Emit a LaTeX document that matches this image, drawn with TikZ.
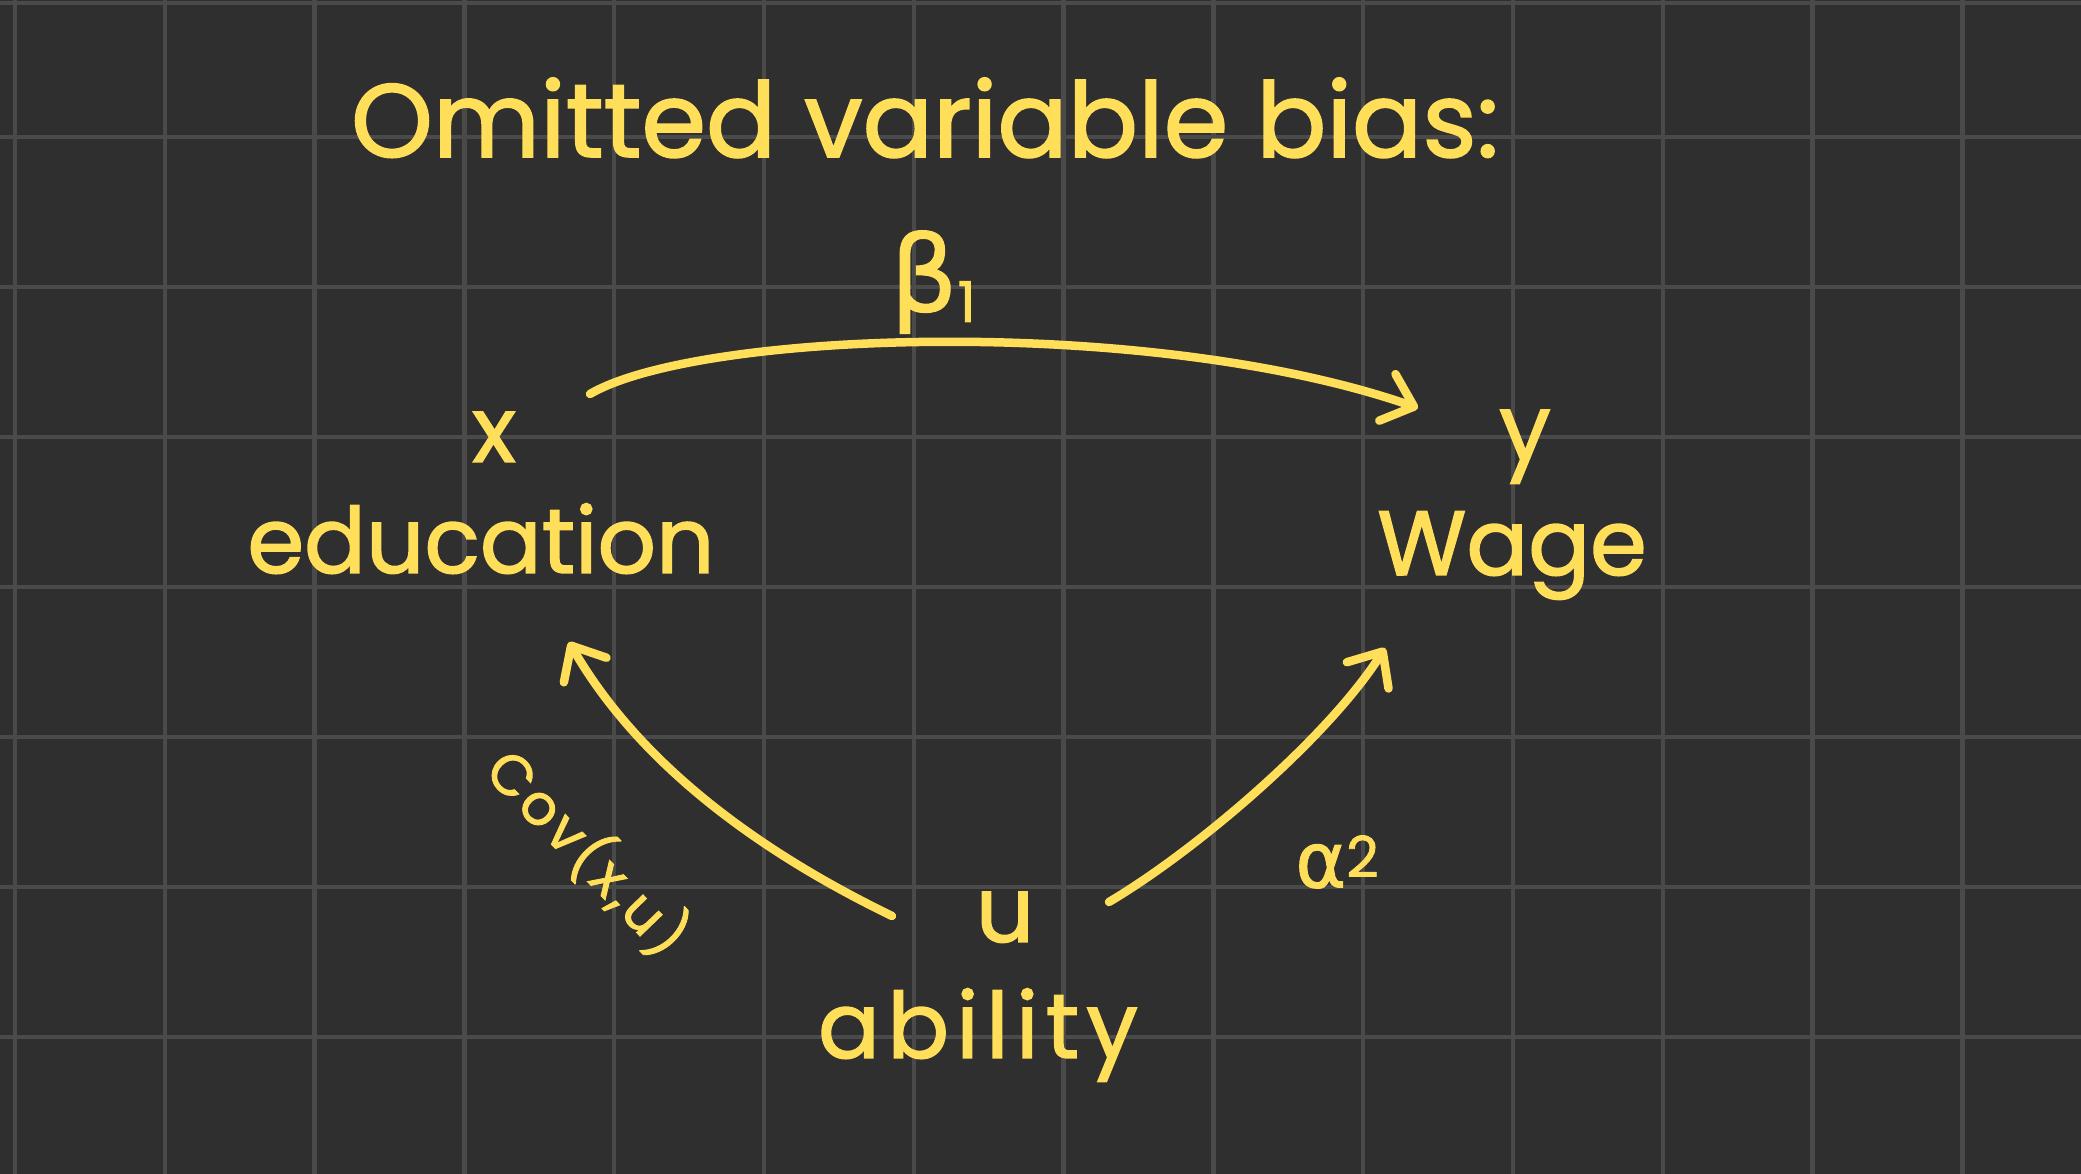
\documentclass[tikz,border=0pt]{standalone}
\usepackage{fontspec}
\setmainfont{Poppins}[FakeBold=1.6]
\newfontfamily\greek{DejaVu Sans}[FakeBold=1.2]
\usetikzlibrary{arrows.meta}
\definecolor{bgc}{HTML}{2F2F2F}
\definecolor{gridc}{HTML}{4A4A4A}
\definecolor{ink}{HTML}{FFDE59}
\begin{document}
\begin{tikzpicture}[x=0.01cm,y=-0.01cm,
  gridline/.style={draw=gridc,line width=0.045cm},
  ink/.style={text=ink,inner sep=0pt},
  big/.style={ink,font=\fontsize{26}{30}\selectfont},
  stroke/.style={draw=ink,line width=0.085cm,line cap=round,
    -{Straight Barb[length=8pt,width=14pt,round]}}]
\path[fill=bgc,use as bounding box] (0,0) rectangle (2081,1174);
% grid
\foreach \i in {0,...,13}{\draw[gridline] ({15+149.8*\i},0) -- ({15+149.8*\i},1174);}
\foreach \j in {0,...,6}{\draw[gridline] (0,{137+150*\j}) -- (2081,{137+150*\j});}
\draw[gridline] (0,3) -- (2081,3);
% texts
\node[ink,font=\fontsize{29.6}{34}\selectfont,anchor=base] (title) at (925,157) {Omitted variable bias:};
\node[ink,font=\fontsize{30}{32}\selectfont] (beta) at (933,282) {{\greek β}\raisebox{-3pt}{\fontsize{16}{16}\selectfont 1}};
\node[big,anchor=base] (x) at (494,462) {x};
\node[big,anchor=base] (edu) at (481,573) {education};
\node[big,anchor=base] (y) at (1525,460) {y};
\node[big,anchor=base] (wage) at (1512,575) {Wage};
\node[big,anchor=base] (u) at (1005,942) {u};
\node[big,anchor=base] (abil) at (978,1058) {\addfontfeatures{LetterSpace=8}ability};
\node[ink,font=\fontsize{16}{20}\selectfont,rotate=-46] (cov) at (588,852) {\addfontfeatures{LetterSpace=6}Cov(x,u)};
\node[ink,font=\fontsize{22}{24}\selectfont] (alpha) at (1337,862) {{\greek α}\raisebox{3pt}{\fontsize{16}{16}\selectfont 2}};
% connector end points
\coordinate (xs) at (590,394);
\coordinate (ye) at (1418,408);
\coordinate (ul) at (892,916);
\coordinate (xe) at (569,642);
\coordinate (ur) at (1109,902);
\coordinate (we) at (1385,648);
% connectors
\draw[stroke] (xs) .. controls (700,330) and (1150,315) .. (ye);
\draw[stroke] (ul) .. controls (760,852) and (640,765) .. (xe);
\draw[stroke] (ur) .. controls (1200,848) and (1330,735) .. (we);
\end{tikzpicture}
\end{document}
